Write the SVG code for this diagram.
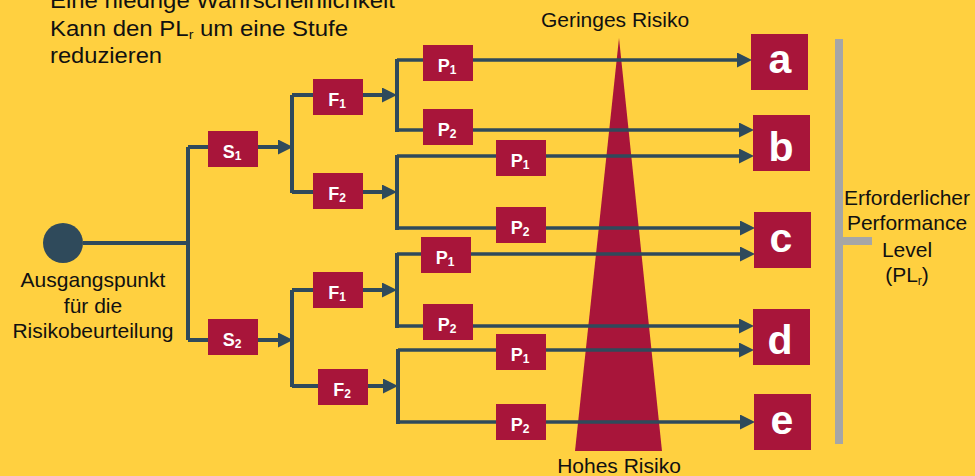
<svg xmlns="http://www.w3.org/2000/svg" width="975" height="476" viewBox="0 0 975 476">
<defs>
<style>
.lbl{font-family:"Liberation Sans",Arial,sans-serif;fill:#111;font-size:21px}
.ctr{text-anchor:middle}
.box{fill:#A8153A}
.bt{font-family:"Liberation Sans",Arial,sans-serif;font-weight:bold;fill:#fff;font-size:18px;text-anchor:middle}
.big{font-family:"Liberation Sans",Arial,sans-serif;font-weight:bold;fill:#fff;font-size:41px;text-anchor:middle}
.c{fill:none;stroke:#2F4A5B;stroke-width:4}
.t{fill:none;stroke:#2F4A5B;stroke-width:3.5}
.g{fill:#A6A6A6}
</style>
<marker id="ah" viewBox="0 0 15 15" refX="0" refY="7.5" markerWidth="15" markerHeight="15" markerUnits="userSpaceOnUse" orient="auto">
<path d="M0,0 L15,7.5 L0,15 z" fill="#2F4A5B"/>
</marker>
</defs>
<rect width="975" height="476" fill="#FFD040"/>

<g id="note">
<text class="lbl" x="50" y="8" style="font-size:22px" textLength="345" lengthAdjust="spacingAndGlyphs">Eine niedrige Wahrscheinlichkeit</text>
<text class="lbl" x="50" y="36" style="font-size:22px" textLength="298" lengthAdjust="spacingAndGlyphs">Kann den PL<tspan font-size="13" dy="3">r</tspan><tspan dy="-3"> um eine Stufe</tspan></text>
<text class="lbl" x="50" y="63" style="font-size:22px" textLength="112" lengthAdjust="spacingAndGlyphs">reduzieren</text>
</g>

<g id="risk">
<polygon points="619,38 575,451 662,451" fill="#A8153A"/>
<text class="lbl ctr" x="615" y="27">Geringes Risiko</text>
<text class="lbl ctr" x="619" y="473">Hohes Risiko</text>
</g>

<g id="connectors">
<path class="c" d="M83,243 H188 M188,147 V340"/>
<path class="c" d="M188,147 H278" marker-end="url(#ah)"/>
<path class="c" d="M188,340 H278" marker-end="url(#ah)"/>
<path class="c" d="M292,95 V193 M292,290 V387"/>
<path class="c" d="M292,95 H382" marker-end="url(#ah)"/>
<path class="c" d="M292,192 H382" marker-end="url(#ah)"/>
<path class="c" d="M292,290 H382" marker-end="url(#ah)"/>
<path class="c" d="M292,386 H383" marker-end="url(#ah)"/>
<path class="c" d="M397,59 V132 M397,155 V230 M397,253 V328 M398,349 V424"/>
<path class="t" d="M397,60 H737" marker-end="url(#ah)"/>
<path class="t" d="M397,130 H739" marker-end="url(#ah)"/>
<path class="t" d="M397,156 H739" marker-end="url(#ah)"/>
<path class="t" d="M397,228 H740" marker-end="url(#ah)"/>
<path class="t" d="M397,254 H740" marker-end="url(#ah)"/>
<path class="t" d="M397,326 H739" marker-end="url(#ah)"/>
<path class="t" d="M398,350 H739" marker-end="url(#ah)"/>
<path class="t" d="M398,422 H740" marker-end="url(#ah)"/>
</g>

<g id="start">
<circle cx="63" cy="243" r="20" fill="#2F4A5B"/>
<text class="lbl ctr" x="93" y="287">Ausgangspunkt</text>
<text class="lbl ctr" x="93" y="313">für die</text>
<text class="lbl ctr" x="93" y="338">Risikobeurteilung</text>
</g>

<g id="S1"><rect class="box" x="208" y="131" width="50" height="36"/><text class="bt" x="232" y="158">S<tspan font-size="12" dy="2">1</tspan></text></g>
<g id="S2"><rect class="box" x="208" y="319" width="50" height="36"/><text class="bt" x="232" y="346">S<tspan font-size="12" dy="2">2</tspan></text></g>

<g id="F1a"><rect class="box" x="313" y="79" width="50" height="36"/><text class="bt" x="337" y="106">F<tspan font-size="12" dy="2">1</tspan></text></g>
<g id="F2a"><rect class="box" x="313" y="173" width="50" height="36"/><text class="bt" x="337" y="200">F<tspan font-size="12" dy="2">2</tspan></text></g>
<g id="F1b"><rect class="box" x="313" y="272" width="50" height="36"/><text class="bt" x="337" y="299">F<tspan font-size="12" dy="2">1</tspan></text></g>
<g id="F2b"><rect class="box" x="318" y="369" width="50" height="36"/><text class="bt" x="342" y="396">F<tspan font-size="12" dy="2">2</tspan></text></g>

<g id="P1a"><rect class="box" x="423" y="45" width="50" height="36"/><text class="bt" x="447" y="72">P<tspan font-size="12" dy="2">1</tspan></text></g>
<g id="P2a"><rect class="box" x="423" y="109" width="50" height="36"/><text class="bt" x="447" y="136">P<tspan font-size="12" dy="2">2</tspan></text></g>
<g id="P1b"><rect class="box" x="496" y="140" width="50" height="36"/><text class="bt" x="520" y="167">P<tspan font-size="12" dy="2">1</tspan></text></g>
<g id="P2b"><rect class="box" x="496" y="207" width="50" height="36"/><text class="bt" x="520" y="234">P<tspan font-size="12" dy="2">2</tspan></text></g>
<g id="P1c"><rect class="box" x="421" y="237" width="50" height="36"/><text class="bt" x="445" y="264">P<tspan font-size="12" dy="2">1</tspan></text></g>
<g id="P2c"><rect class="box" x="423" y="304" width="50" height="36"/><text class="bt" x="447" y="331">P<tspan font-size="12" dy="2">2</tspan></text></g>
<g id="P1d"><rect class="box" x="496" y="334" width="50" height="36"/><text class="bt" x="520" y="361">P<tspan font-size="12" dy="2">1</tspan></text></g>
<g id="P2d"><rect class="box" x="496" y="404" width="50" height="36"/><text class="bt" x="520" y="431">P<tspan font-size="12" dy="2">2</tspan></text></g>

<g id="a"><rect class="box" x="751" y="34" width="57" height="56"/><text class="big" x="780" y="73">a</text></g>
<g id="b"><rect class="box" x="753" y="115" width="57" height="56"/><text class="big" x="781" y="161">b</text></g>
<g id="c"><rect class="box" x="754" y="212" width="57" height="56"/><text class="big" x="781" y="252">c</text></g>
<g id="d"><rect class="box" x="753" y="309" width="57" height="56"/><text class="big" x="780" y="354">d</text></g>
<g id="e"><rect class="box" x="754" y="394" width="57" height="56"/><text class="big" x="782" y="434">e</text></g>

<g id="pl">
<rect class="g" x="835" y="39" width="8" height="405"/>
<rect class="g" x="835" y="237" width="37" height="8"/>
<text class="lbl ctr" x="907" y="205">Erforderlicher</text>
<text class="lbl ctr" x="907" y="230">Performance</text>
<text class="lbl ctr" x="907" y="257">Level</text>
<text class="lbl ctr" x="907" y="282">(PL<tspan font-size="12" dy="3">r</tspan><tspan dy="-3">)</tspan></text>
</g>
</svg>
